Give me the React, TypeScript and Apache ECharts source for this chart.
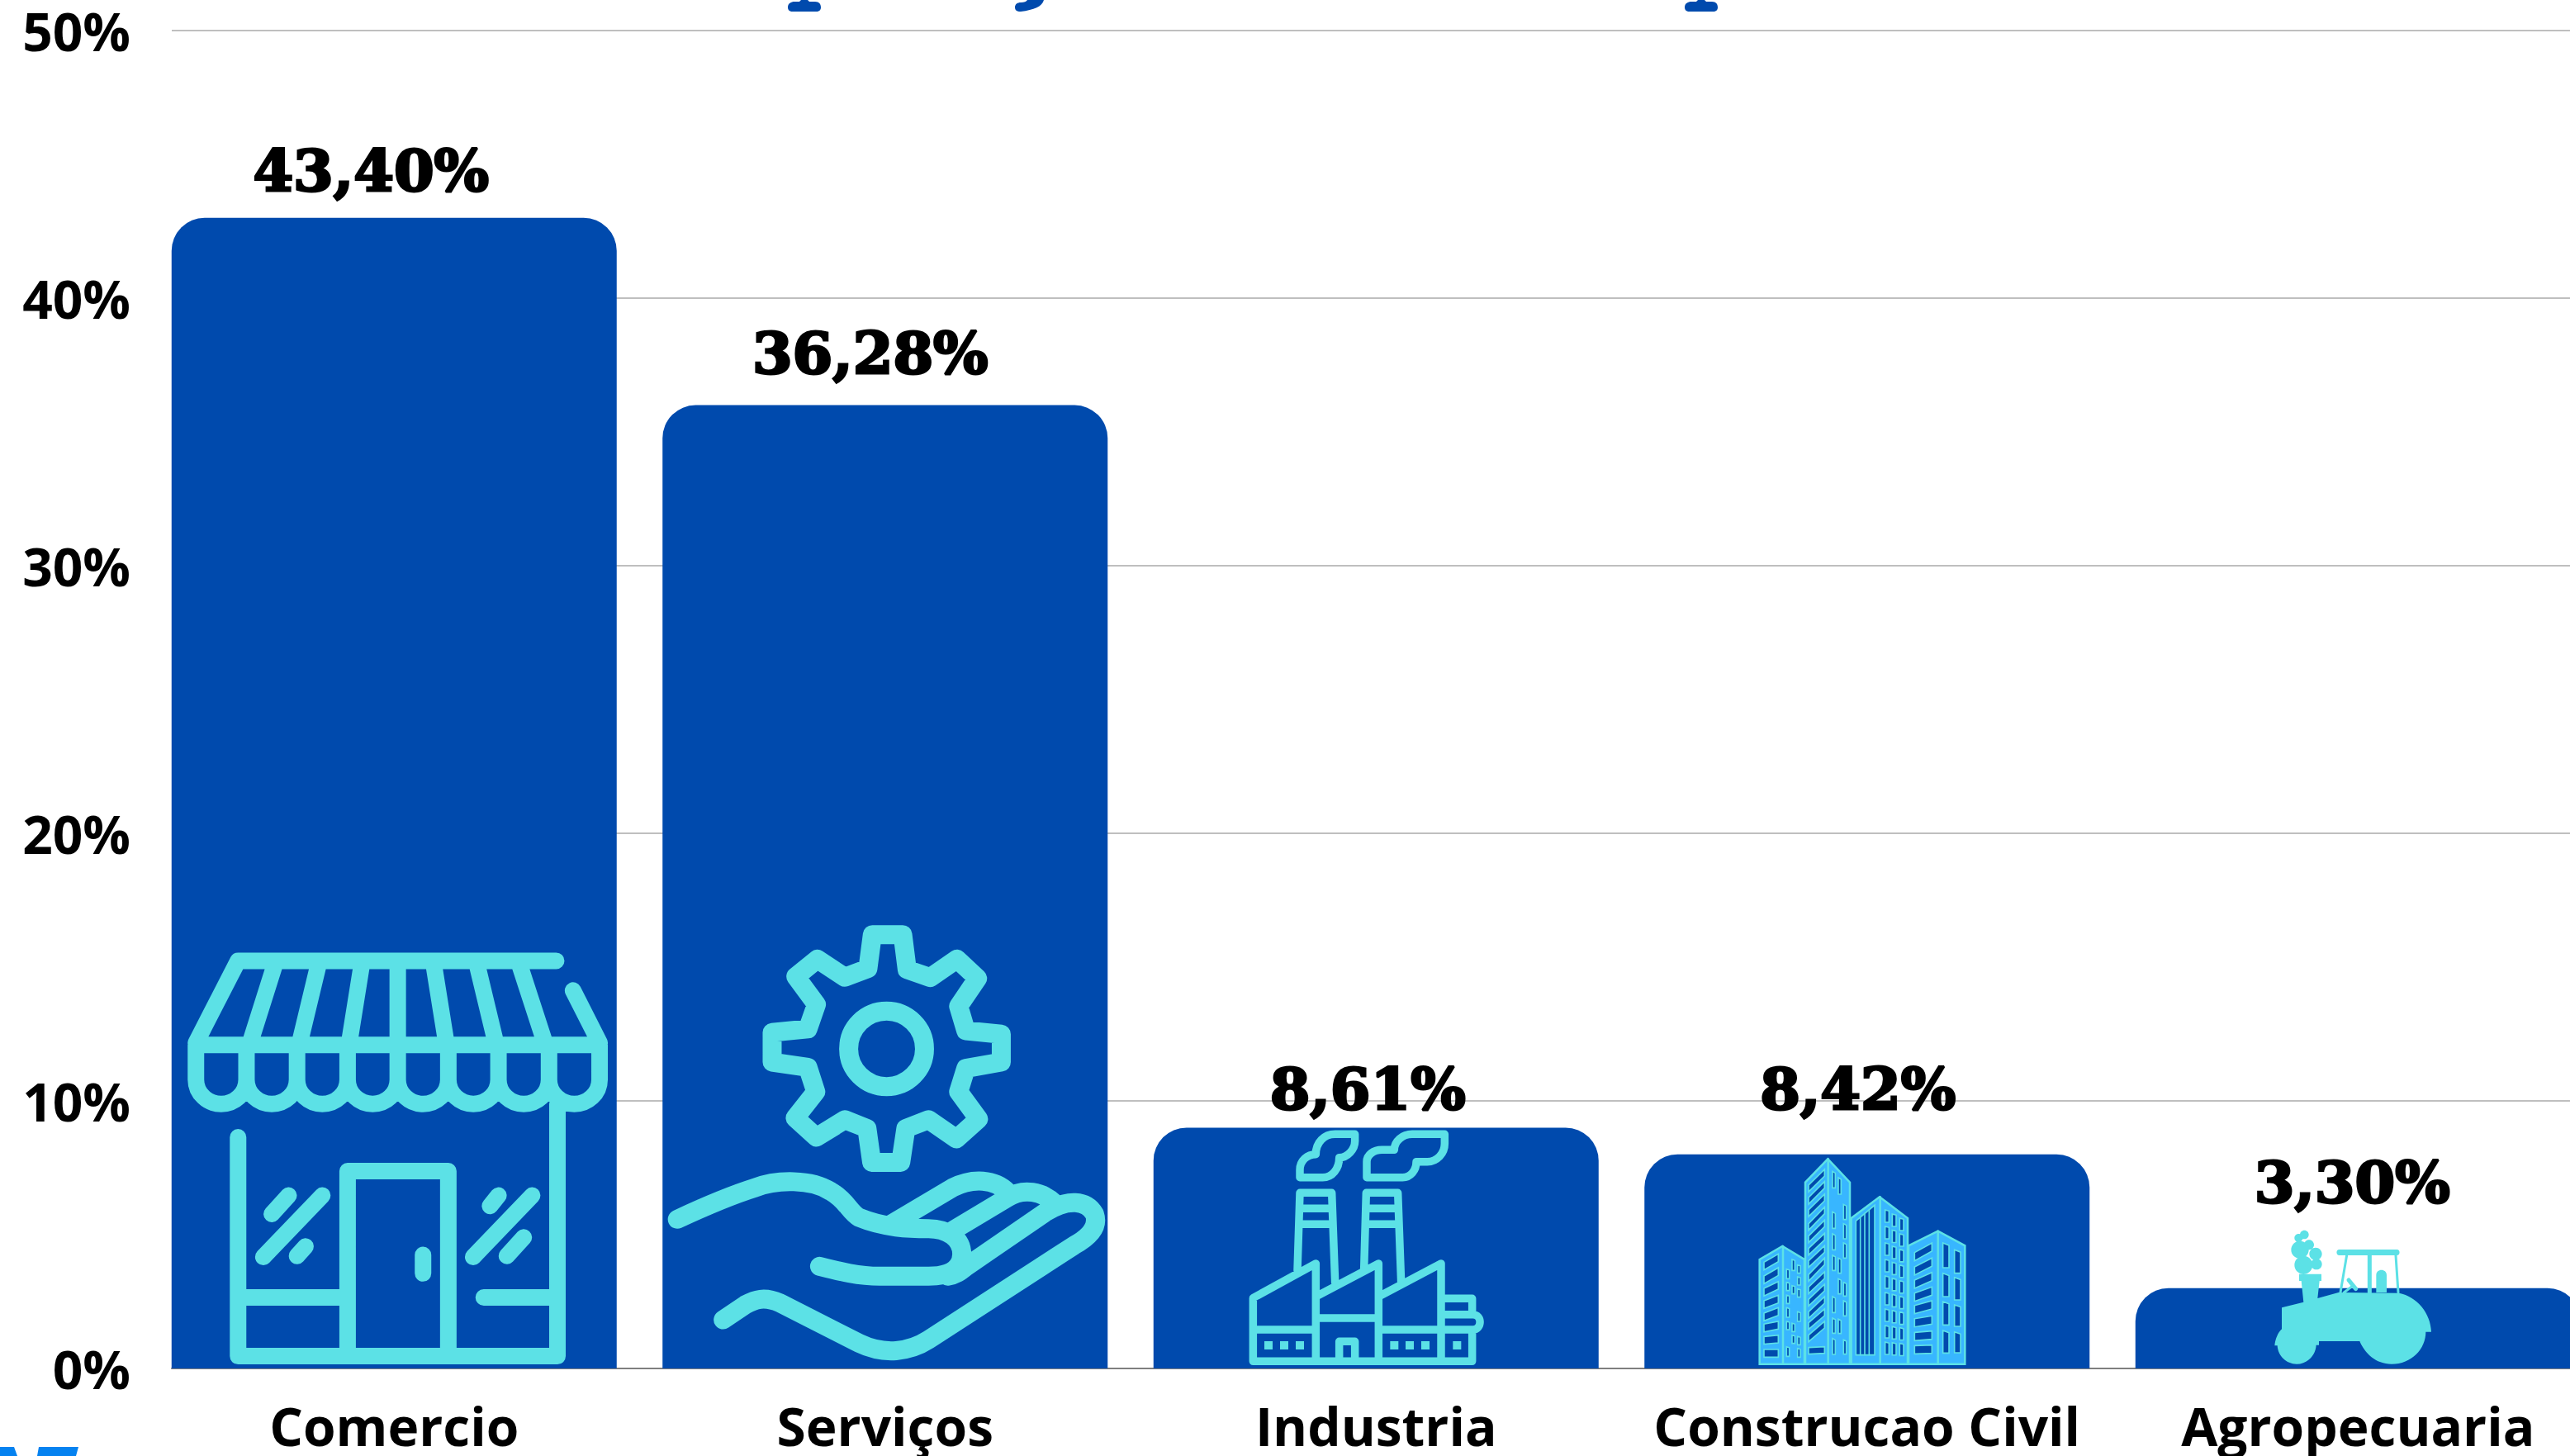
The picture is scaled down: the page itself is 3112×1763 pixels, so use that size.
import React, { useEffect, useRef } from "react";
import * as echarts from "echarts";

const categories = ["Comercio", "Serviços", "Industria", "Construcao Civil", "Agropecuaria"];
const barValues = [43, 36, 9, 8, 3];
const valueLabels = ["43,40%", "36,28%", "8,61%", "8,42%", "3,30%"];
const yMin = 0;
const yMax = 50;
const yStep = 10;

const labelOffsets = [[-28, -22], [-18, -28], [-10, -12], [-11, -44], [-7, -93]];

const BLUE = "#004AAD";
const CYAN = "#5CE1E6";
const SKY = "#38B6FF";

const place = (d: string, ox: number, oy: number, sx: number, sy: number) =>
  d.replace(/(-?[\d.]+) (-?[\d.]+)/g, (_, a, b) => `${(ox + parseFloat(a) * sx).toFixed(2)} ${(oy + parseFloat(b) * sy).toFixed(2)}`);

const ellipse = (cx: number, cy: number, rx: number, ry: number) => {
  const k = 0.5523;
  return `M${cx - rx} ${cy} C${cx - rx} ${cy - k * ry} ${cx - k * rx} ${cy - ry} ${cx} ${cy - ry} C${cx + k * rx} ${cy - ry} ${cx + rx} ${cy - k * ry} ${cx + rx} ${cy} C${cx + rx} ${cy + k * ry} ${cx + k * rx} ${cy + ry} ${cx} ${cy + ry} C${cx - k * rx} ${cy + ry} ${cx - rx} ${cy + k * ry} ${cx - rx} ${cy} Z `;
};

const poly = (pts: number[][]) => "M" + pts.map((p) => `${p[0]} ${p[1]}`).join(" L") + " Z ";

/* ---------- store ---------- */
function storePath() {
  let d = "M1320 150 L565 150 L465 385 M1360 235 L1423 385 M465 391 L1423 391 ";
  const slats = [[655, 592], [758, 710], [860, 828], [944, 944], [1028, 1060], [1130, 1178], [1230, 1295]];
  slats.forEach(([a, b]) => (d += `M${a} 150 L${b} 391 `));
  const xs = [465, 585, 705, 825, 944, 1064, 1183, 1303, 1423];
  xs.forEach((x) => (d += `M${x} 391 L${x} 490 `));
  for (let i = 0; i < xs.length - 1; i++) {
    const a = xs[i], b = xs[i + 1], m = (a + b) / 2;
    d += `M${a} 490 C${a} 530 ${m - 32} 560 ${m} 560 C${m + 32} 560 ${b} 530 ${b} 490 `;
  }
  d += "M565 655 L565 1282 L1323 1282 L1323 560 M825 1282 L825 752 L1064 752 L1064 1282 M1004 992 L1004 1045 ";
  d += "M565 1114 L825 1114 M1148 1114 L1323 1114 ";
  d += "M625 998 L765 822 M645 875 L685 822 M705 995 L725 968 M1123 998 L1263 822 M1163 852 L1183 822 M1203 995 L1243 942";
  return place(d, 0, 1100, 1 / 1.96, 1 / 2.365);
}

/* ---------- gear and hand ---------- */
function gearPath() {
  const g = [[722, 75], [818, 75], [832, 175], [905, 198], [990, 145], [1055, 200], [995, 280], [1018, 350], [1130, 360], [1130, 440], [1018, 458], [995, 525], [1058, 603], [988, 660], [900, 605], [828, 630], [812, 727], [720, 727], [705, 630], [635, 605], [545, 655], [478, 600], [543, 525], [518, 455], [405, 440], [405, 355], [518, 345], [545, 275], [480, 195], [548, 145], [635, 197], [708, 172]];
  let d = poly(g) + ellipse(767, 402, 120, 108);
  d += "M105 890 C200 850 280 820 350 800 C420 775 530 775 590 810 C640 835 650 870 680 885 C760 915 840 917 900 917 C960 917 1005 945 1005 990 C1005 1035 960 1053 900 1053 L745 1053 C680 1053 620 1040 555 1025 ";
  d += "M780 905 L975 800 C1040 770 1110 775 1150 812 M980 920 L1150 828 C1200 800 1260 810 1300 845 ";
  d += "M960 1053 C985 1050 1000 1040 1020 1025 L1270 870 C1340 830 1400 835 1425 875 C1440 915 1400 945 1360 965 L900 1235 C840 1270 760 1280 680 1245 L430 1130 C380 1110 350 1120 320 1135 L250 1178";
  return place(d, 780, 1100, 1 / 2.613, 1 / 2.365);
}

/* ---------- factory ---------- */
function factoryLines() {
  const d =
    "M352 1165 L352 935 L580 810 L580 1165 M352 1050 L580 1050 M580 930 L808 810 L808 1165 M580 1008 L808 1008 " +
    "M665 1165 L665 1093 L722 1093 L722 1165 M808 930 L1035 810 L1035 1165 M808 1050 L1035 1050 M352 1165 L1148 1165 L1148 1050 " +
    "M1035 937 L1148 937 L1148 995 M1035 995 L1150 995 C1185 995 1185 1050 1150 1050 L1035 1050 " +
    "M513 835 L522 553 L638 553 L650 880 M522 610 L640 610 M520 667 L642 667 " +
    "M755 830 L763 553 L878 553 L890 880 M763 610 L880 610 M760 667 L882 667 " +
    "M522 497 L522 470 C522 435 550 413 580 413 C580 370 610 340 650 340 L722 340 L722 365 C722 395 695 425 665 425 C665 465 640 497 605 497 Z " +
    "M765 497 L765 440 C765 415 790 397 820 397 L865 397 C865 365 895 340 930 340 L1048 340 L1048 375 C1048 410 1020 440 985 440 L945 440 C945 470 925 497 895 497 Z";
  return place(d, 1400, 1260, 1 / 3, 1 / 3);
}
function factoryWindows() {
  let d = "";
  [393, 450, 507, 850, 906, 963, 1078].forEach((x) => (d += poly([[x, 1092], [x + 30, 1092], [x + 30, 1122], [x, 1122]])));
  return place(d, 1400, 1260, 1 / 3, 1 / 3);
}

/* ---------- buildings ---------- */
const B = (d: string) => place(d, 2110, 1390, 1 / 3, 1 / 3);
function towersBody() {
  let d = "";
  d += poly([[62, 405], [145, 357], [225, 405], [225, 785], [62, 785]]);
  d += poly([[228, 125], [310, 40], [390, 125], [390, 785], [228, 785]]);
  d += poly([[395, 255], [498, 178], [600, 255], [600, 785], [395, 785]]);
  d += poly([[603, 355], [710, 302], [808, 355], [808, 785], [603, 785]]);
  return B(d);
}
function towersDividers() {
  return B("M147 357 L147 785 M311 40 L311 785 M500 178 L500 785 M710 302 L710 785");
}
function towersWindows() {
  let d = "";
  const slant = (x1: number, x2: number, tl: number[], tr: number[], h: number) =>
    tl.forEach((t, i) => (d += poly([[x1, t], [x2, tr[i]], [x2, tr[i] + h], [x1, t + h]])));
  slant(78, 130, [415, 465, 510, 555, 600, 640, 685, 732], [385, 435, 485, 535, 580, 630, 680, 732], 28);
  slant(240, 298, [135, 180, 225, 275, 320, 365, 410, 460, 505, 550, 595, 635, 680, 725], [78, 122, 168, 215, 262, 310, 355, 400, 450, 495, 540, 585, 630, 722], 24);
  slant(625, 688, [380, 432, 480, 527, 572, 620, 670, 718], [345, 400, 452, 505, 555, 610, 665, 716], 30);
  const rects: number[][] = [
    [180, 405, 10, 40], [200, 425, 10, 30], [160, 440, 10, 35], [200, 468, 10, 30], [160, 488, 10, 30], [180, 500, 10, 30], [200, 512, 10, 30], [160, 535, 10, 30], [160, 580, 10, 35], [200, 595, 10, 35], [160, 630, 10, 30], [180, 637, 10, 30], [180, 680, 10, 30], [200, 685, 10, 30], [160, 722, 10, 35], [200, 728, 10, 32],
    [327, 85, 10, 60], [348, 108, 10, 60], [367, 205, 10, 55], [327, 232, 10, 60], [367, 275, 10, 55], [327, 312, 10, 58], [367, 345, 10, 55], [327, 390, 10, 55], [348, 400, 10, 55], [348, 475, 10, 55], [367, 488, 10, 50], [327, 540, 10, 58], [367, 555, 10, 55], [327, 618, 10, 55], [348, 622, 10, 52], [327, 692, 10, 58], [367, 697, 10, 52],
    [728, 345, 22, 90], [728, 455, 22, 85], [728, 558, 22, 85], [728, 663, 22, 82], [770, 370, 22, 85], [770, 470, 22, 82], [770, 570, 22, 78], [770, 668, 22, 76],
  ];
  rects.forEach(([x, y, w, h]) => (d += poly([[x, y], [x + w, y + h * 0.1], [x + w, y + h], [x, y + h]])));
  [225, 285, 345, 405, 465, 525, 585, 645, 705].forEach((y, i) => {
    [518, 544, 571].forEach((x, c) => {
      const off = c * (15 - i * 1.6);
      d += poly([[x, y + off], [x + 14, y + off + 4], [x + 14, y + off + 45], [x, y + off + 45]]);
    });
  });
  d += poly([[412, 265], [480, 208], [480, 752], [412, 752]]);
  return B(d);
}
function towersStripes() {
  return B("M428 252 L428 752 M444 238 L444 752 M460 225 L460 752");
}

/* ---------- tractor ---------- */
const T = (d: string) => place(d, 2730, 1470, 1 / 3, 1 / 3);
function tractorFill() {
  let d =
    "M99 340 L178 320 L170 243 L162 243 L162 218 L243 218 L243 243 L236 243 L229 306 L305 285 L525 287 C590 300 640 360 642 428 L622 428 C622 490 570 545 498 545 C440 545 400 505 382 462 L234 462 L234 476 L224 476 C222 515 190 545 153 545 C115 545 85 515 83 478 L73 478 C75 455 85 430 99 418 Z ";
  d += "M308 129 L517 129 C530 129 530 150 517 150 L308 150 C295 150 295 129 308 129 Z ";
  d += "M442 285 L442 222 C442 197 480 197 480 222 L480 285 Z ";
  d += ellipse(181, 75, 16, 16) + ellipse(160, 87, 15, 15) + ellipse(198, 112, 18, 18) + ellipse(165, 130, 32, 32) + ellipse(222, 145, 23, 23) + ellipse(178, 185, 33, 33) + ellipse(225, 182, 20, 20);
  return T(d);
}
function tractorPosts() {
  return T("M335 150 L312 285 M513 150 L522 285 M325 285 L355 262");
}
function tractorBar() {
  return T("M418 150 L418 285");
}
function tractorWheel() {
  return T("M342 240 L368 272");
}

/* ---------- clipped shapes at the page edges ---------- */
const foot = (o: number) =>
  `M${o} 9 C${o} 4 ${o + 4} 2 ${o + 8} 2 L${o + 14} 2 L${o + 16} 0 L${o + 24} 0 L${o + 26} 2 L${o + 33} 2 C${o + 38} 2 ${o + 40} 5 ${o + 40} 9 C${o + 40} 12 ${o + 38} 14 ${o + 34} 14 L${o + 6} 14 C${o + 2} 14 ${o} 12 ${o} 9 Z `;
const titleMarks = foot(954) + foot(2040) + "M1244 0 L1264 0 C1262 8 1252 12 1236 14 C1231 14 1229 12 1229 9 C1229 5 1232 3 1236 3 C1240 3 1243 2 1244 0 Z";
const logoMarks = "M0 1752 L17 1752 L21 1763 L0 1763 Z M47 1752 L95 1752 L92 1763 L45 1763 Z";

export default function App() {
  const ref = useRef<HTMLDivElement>(null);
  useEffect(() => {
    document.body.style.margin = "0";
    const shapes: Record<string, string> = {
      store: storePath(), gear: gearPath(), factoryL: factoryLines(), factoryW: factoryWindows(),
      towerB: towersBody(), towerD: towersDividers(), towerW: towersWindows(), towerS: towersStripes(),
      tractorF: tractorFill(), tractorP: tractorPosts(), tractorB: tractorBar(), tractorS: tractorWheel(),
      titleM: titleMarks, logoM: logoMarks,
    };
    Object.keys(shapes).forEach((k) => {
      echarts.graphic.registerShape(k, echarts.graphic.extendPath(shapes[k], {}));
    });
    const line = (type: string, lineWidth: number, stroke = CYAN) => ({
      type, z: 10, silent: true,
      style: { fill: "none", stroke, lineWidth, lineCap: "round", lineJoin: "round" },
    });
    const fill = (type: string, color: string) => ({ type, z: 10, silent: true, style: { fill: color } });
    const filledLine = (type: string, f: string, s: string, w: number) => ({
      type, z: 10, silent: true, style: { fill: f, stroke: s, lineWidth: w, lineJoin: "miter" },
    });

    const chart = echarts.init(ref.current!, null, { renderer: "svg" });
    const axisFont = { fontFamily: "Open Sans", fontWeight: "bold" as const, fontSize: 64, color: "#000000" };
    chart.setOption({
      animation: false,
      backgroundColor: "#ffffff",
      grid: [
        { left: 180, top: 37, width: 2972.5, height: 1620, containLabel: false, outerBoundsMode: "none" },
        { left: 208, top: 37, width: 2904, height: 1620, containLabel: false, outerBoundsMode: "none" },
      ],
      xAxis: [
        {
          type: "category", gridIndex: 0, data: categories,
          axisLine: { show: false }, axisTick: { show: false },
          axisLabel: { ...axisFont, margin: 37, interval: 0 },
        },
        {
          type: "category", gridIndex: 1, data: categories,
          axisLine: { show: true, lineStyle: { color: "#7F7F7F", width: 2 } },
          axisTick: { show: false }, axisLabel: { show: false },
        },
      ],
      yAxis: [
        {
          type: "value", gridIndex: 0, min: yMin, max: yMax, interval: yStep,
          axisLine: { show: false }, axisTick: { show: false }, splitLine: { show: false },
          axisLabel: { ...axisFont, margin: 22, padding: [0, 0, 3, 0], formatter: (v: number) => `${v}%` },
        },
        {
          type: "value", gridIndex: 1, min: yMin, max: yMax, interval: yStep,
          axisLine: { show: false }, axisTick: { show: false }, axisLabel: { show: false },
          splitLine: { show: true, lineStyle: { color: "#BFBFBF", width: 2 } },
        },
      ],
      series: [
        {
          type: "bar", xAxisIndex: 0, yAxisIndex: 0, barWidth: 539, z: 3,
          itemStyle: { color: BLUE, borderRadius: [40, 40, 0, 0] },
          data: barValues.map((v, i) => ({
            value: v,
            label: {
              show: true, position: "top", distance: 0,
              offset: labelOffsets[i],
              formatter: () => valueLabels[i],
              fontFamily: "DejaVu Serif", fontWeight: "bold", fontSize: 70, color: "#000000",
              textBorderColor: "#000000", textBorderWidth: 3,
            },
          })),
        },
      ],
      graphic: {
        elements: [
          fill("titleM", BLUE),
          fill("logoM", "#0582F0"),
          line("store", 20),
          line("gear", 23),
          line("factoryL", 9.5),
          fill("factoryW", CYAN),
          filledLine("towerB", SKY, CYAN, 2.5),
          line("towerD", 2.5),
          filledLine("towerW", BLUE, CYAN, 1.6),
          line("towerS", 1.6),
          fill("tractorF", CYAN),
          line("tractorP", 3),
          line("tractorB", 5),
          line("tractorS", 5),
        ],
      },
    });
    return () => chart.dispose();
  }, []);
  return <div ref={ref} style={{ position: "fixed", left: 0, top: 0, width: 3112, height: 1763 }} />;
}
